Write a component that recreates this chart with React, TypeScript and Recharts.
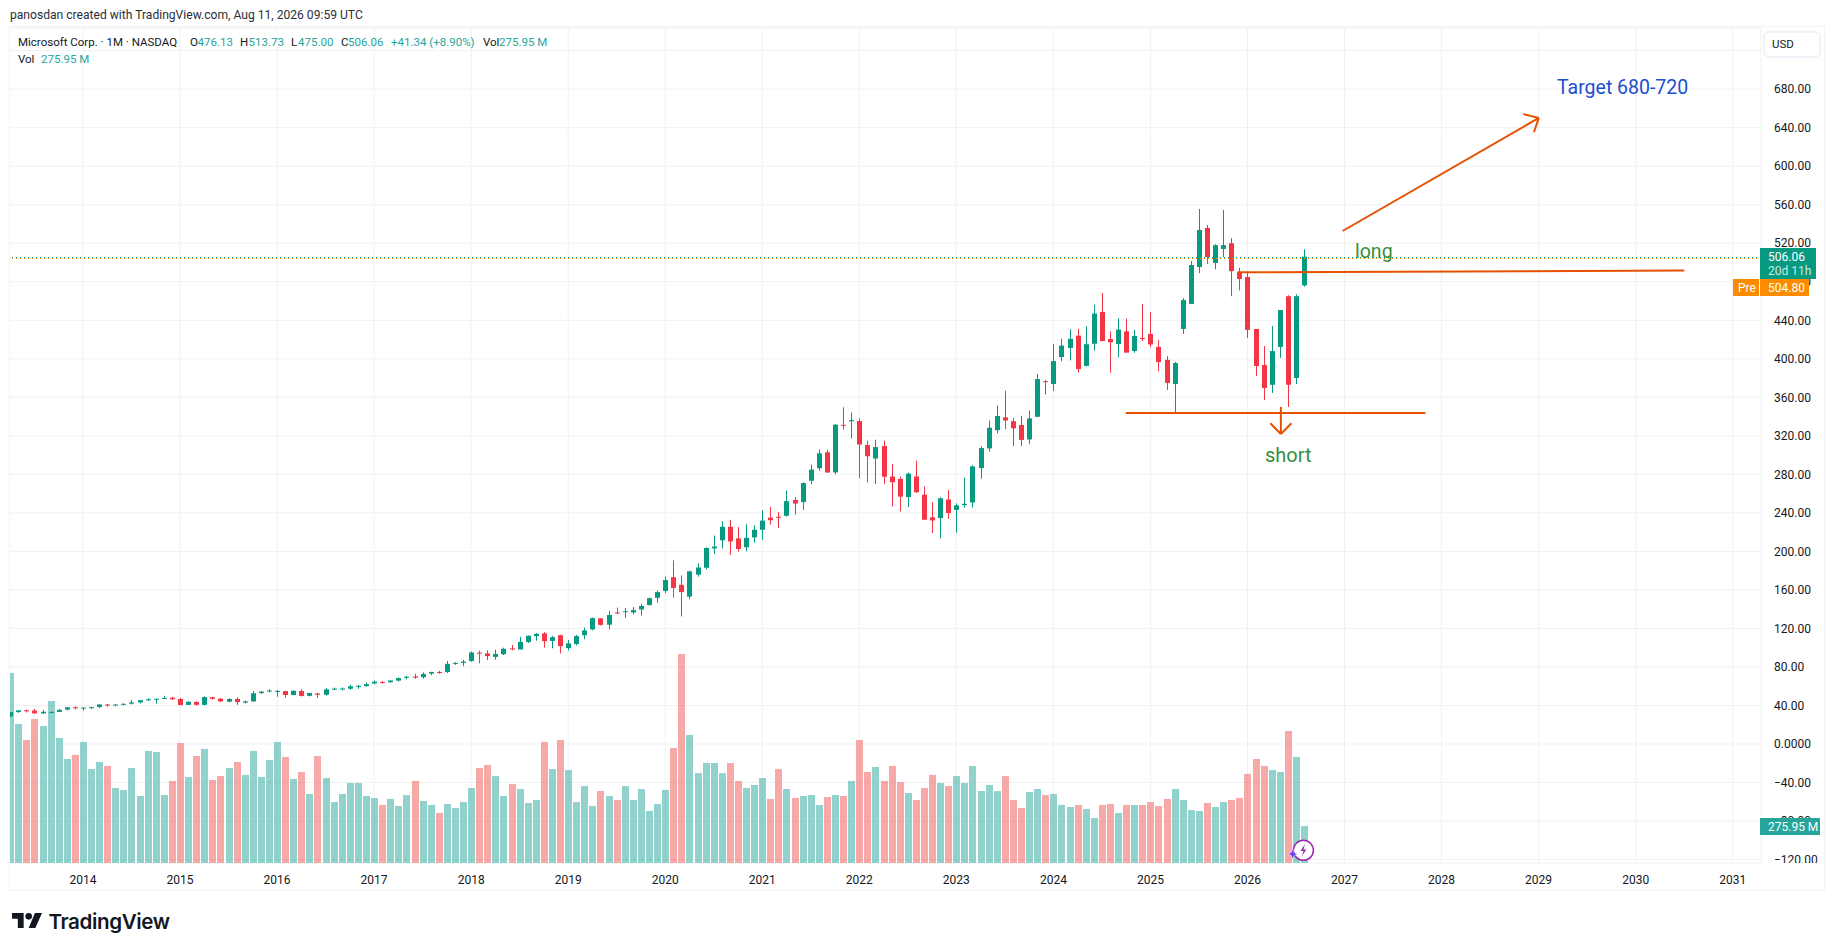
import React from 'react';
import { ComposedChart, Bar, XAxis, YAxis, CartesianGrid, ReferenceLine } from 'recharts';

const GREEN = '#089981';
const RED = '#f23645';
const VOL_GREEN = '#26a69a';
const VOL_RED = '#ef5350';
const ORANGE = '#e65100';
const FONT = 'Roboto, sans-serif';

// months from Apr 2013 out to the empty right side of the chart
const months: string[] = [];
for (let i = 0; i < 217; i++) {
  const m = 3 + i;
  months.push(`${2013 + Math.floor(m / 12)}-${String((m % 12) + 1).padStart(2, '0')}`);
}
const yearTicks = [2014, 2015, 2016, 2017, 2018, 2019, 2020, 2021, 2022, 2023, 2024, 2025, 2026, 2027, 2028, 2029, 2030, 2031].map((y) => `${y}-01`);
const priceTicks = [-120, -80, -40, 0, 40, 80, 120, 160, 200, 240, 280, 320, 360, 400, 440, 480, 520, 560, 600, 640, 680, 720];

const opens = [
  28.64, 33.21, 35.0, 34.75, 31.8, 33.2, 33.3, 35.7, 38.1,
  37.35, 37.74, 38.34, 41.0, 40.3, 40.9, 41.86, 43.2, 45.4, 46.3, 46.9, 48.0,
  46.7, 40.6, 43.7, 40.6, 48.6, 47.0, 43.96, 46.7, 43.0, 44.27, 52.85, 54.4,
  54.3, 54.9, 50.9, 55.05, 50.0, 52.44, 51.13, 56.6, 57.0, 57.4, 59.97, 60.1,
  62.8, 64.4, 64.1, 65.8, 68.7, 70.2, 69.3, 73.1, 74.7, 74.7, 83.7, 84.2,
  86.1, 94.8, 93.99, 90.47, 93.2, 99.28, 98.1, 106.0, 112.0, 114.75, 107.0, 113.0,
  99.55, 103.8, 112.9, 118.95, 130.5, 123.85, 136.6, 137.0, 136.6, 139.66, 144.26, 151.8,
  158.8, 173.2, 165.3, 153.0, 175.8, 183.0, 203.14, 211.5, 225.5, 213.5, 204.3, 214.5,
  222.5, 235.0, 235.9, 237.0, 253.4, 251.2, 273.3, 286.4, 302.9, 282.0, 331.4, 335.1,
  335.35, 310.4, 296.4, 309.37, 277.7, 275.2, 256.4, 277.8, 258.87, 235.4, 234.6, 253.87,
  243.08, 248.0, 250.76, 286.5, 306.97, 325.9, 339.19, 335.19, 331.31, 316.28, 339.79, 376.76,
  373.86, 401.83, 411.27, 424.0, 392.61, 415.6, 448.66, 420.5, 415.25, 428.45, 408.1, 421.57,
  425.8, 412.3, 398.9, 373.8, 431.0, 457.0, 495.3, 535.8, 499.5, 514.0, 520.0, 490.0,
  484.9, 431.0, 393.5, 373.0, 412.3, 465.0, 380.0, 476.13,
];
const highs = [
  33.11, 35.0, 35.8, 36.4, 35.2, 33.9, 36.4, 38.5, 38.98,
  37.9, 38.46, 41.66, 41.6, 41.1, 42.29, 45.7, 45.5, 47.57, 47.0, 50.05, 49.06,
  47.9, 44.3, 44.2, 49.5, 48.9, 47.8, 47.6, 48.4, 45.0, 54.98, 55.1, 56.85,
  56.0, 55.1, 55.64, 56.77, 53.0, 52.95, 58.3, 58.5, 58.7, 61.4, 61.4, 64.1,
  65.9, 65.2, 66.2, 69.1, 70.74, 72.9, 74.4, 74.96, 75.97, 86.2, 85.06, 87.5,
  96.07, 96.8, 97.24, 97.9, 99.99, 102.7, 111.15, 112.8, 115.3, 116.18, 112.2, 113.42,
  107.9, 113.24, 120.82, 131.37, 130.65, 138.4, 141.7, 140.94, 142.37, 145.67, 152.0, 159.55,
  174.05, 190.7, 175.0, 180.0, 187.5, 204.4, 216.38, 231.15, 232.86, 225.2, 228.12, 227.18,
  242.64, 246.1, 241.0, 263.2, 256.5, 271.65, 290.15, 305.84, 305.3, 332.0, 349.67, 344.3,
  338.0, 315.0, 315.95, 315.0, 290.88, 277.69, 282.0, 294.18, 267.45, 251.0, 256.17, 263.92,
  249.83, 276.76, 289.27, 308.93, 335.94, 351.47, 366.78, 338.54, 340.86, 346.2, 384.3, 378.16,
  415.32, 420.82, 430.82, 430.82, 433.6, 456.17, 468.35, 428.5, 441.85, 441.85, 429.9, 456.9,
  448.5, 419.5, 402.9, 396.7, 463.0, 501.6, 555.6, 539.0, 519.0, 554.5, 525.4, 494.5,
  489.5, 431.0, 413.3, 434.0, 450.6, 466.0, 467.0, 513.73,
];
const lows = [
  28.11, 32.3, 32.6, 31.0, 31.1, 31.7, 33.0, 34.9, 35.8,
  34.63, 36.0, 37.2, 38.5, 39.0, 40.1, 41.0, 42.1, 44.9, 41.7, 46.8, 45.5,
  40.2, 40.6, 40.0, 40.1, 46.0, 43.9, 43.3, 40.6, 42.0, 43.75, 52.0, 53.7,
  49.1, 48.2, 50.6, 49.35, 49.45, 48.0, 50.4, 56.1, 55.6, 56.3, 57.3, 59.2,
  61.9, 62.75, 63.6, 64.85, 67.14, 67.6, 67.9, 71.3, 72.9, 73.6, 82.2, 80.7,
  85.5, 83.8, 87.08, 87.5, 92.45, 97.26, 98.6, 104.8, 107.23, 100.11, 99.35, 93.96,
  97.2, 102.35, 108.8, 118.1, 123.0, 119.0, 134.67, 130.8, 134.5, 133.22, 143.8, 146.65,
  156.5, 152.0, 132.52, 150.36, 173.8, 181.35, 197.5, 203.1, 196.25, 199.6, 200.1, 209.1,
  211.9, 227.9, 224.3, 236.0, 238.07, 243.0, 269.6, 283.74, 281.6, 280.0, 326.37, 317.25,
  276.05, 271.52, 270.0, 270.0, 246.44, 241.51, 245.94, 260.66, 232.73, 219.13, 213.43, 233.87,
  219.35, 245.47, 245.61, 275.37, 303.4, 322.5, 327.0, 309.45, 309.45, 311.21, 339.65, 362.9,
  366.5, 397.5, 398.39, 385.58, 392.0, 408.5, 420.0, 385.58, 401.62, 408.0, 406.4, 418.47,
  412.0, 387.0, 367.6, 344.0, 425.8, 457.0, 489.0, 498.5, 493.0, 505.7, 465.0, 471.0,
  421.6, 382.0, 357.0, 364.5, 401.0, 350.0, 373.8, 475.0,
];
const closes = [
  33.1, 34.9, 34.5, 31.84, 33.4, 33.28, 35.4, 38.1, 37.4,
  37.84, 38.31, 40.99, 40.4, 40.94, 41.7, 43.16, 45.43, 46.36, 46.95, 47.81, 46.45,
  40.4, 43.85, 40.65, 48.64, 46.86, 44.15, 46.7, 43.52, 44.26, 52.64, 54.35, 55.48,
  55.09, 50.88, 55.23, 49.87, 53.0, 51.17, 56.68, 57.46, 57.6, 59.92, 60.26, 62.14,
  64.65, 63.98, 65.86, 68.46, 69.84, 68.93, 72.7, 74.77, 74.49, 83.18, 84.17, 85.54,
  95.01, 93.77, 91.27, 93.52, 98.84, 98.61, 106.08, 112.33, 114.37, 106.81, 110.89, 101.57,
  104.43, 112.03, 117.94, 130.6, 123.68, 133.96, 136.27, 137.86, 139.03, 143.37, 151.38, 157.7,
  170.23, 162.01, 157.71, 179.21, 183.25, 203.51, 205.01, 225.53, 210.33, 202.47, 214.07, 222.42,
  231.96, 232.38, 235.77, 252.18, 249.68, 270.9, 284.91, 301.88, 281.92, 331.62, 330.59, 336.32,
  310.98, 298.79, 308.31, 277.52, 271.87, 256.83, 280.74, 261.47, 232.9, 232.13, 255.14, 239.82,
  247.81, 249.42, 288.3, 307.26, 328.39, 340.54, 335.92, 327.76, 315.75, 338.11, 378.91, 376.04,
  397.58, 413.64, 420.72, 389.33, 415.13, 446.95, 418.35, 417.14, 430.3, 406.35, 423.7, 421.5,
  414.9, 396.6, 375.0, 395.6, 461.0, 497.4, 533.8, 505.7, 518.0, 518.0, 491.0, 482.9,
  430.0, 392.5, 369.7, 408.0, 450.6, 373.0, 465.0, 506.06,
];
// monthly volume in millions
const volumes = [
  1418, 1037, 918, 1074, 1022, 1209, 933, 776, 806,
  903, 701, 754, 724, 560, 545, 709, 500, 836, 828, 507, 612,
  895, 642, 798, 851, 619, 649, 709, 754, 657, 836, 642, 768,
  903, 791, 627, 679, 515, 798, 634, 455, 515, 597, 597, 500,
  485, 433, 478, 425, 507, 612, 463, 433, 373, 440, 410, 455,
  560, 709, 731, 649, 500, 589, 552, 448, 470, 903, 701, 918,
  694, 455, 574, 425, 537, 500, 470, 574, 470, 552, 388, 440,
  545, 858, 1559, 955, 671, 746, 746, 671, 746, 612, 560, 582,
  634, 478, 701, 552, 485, 500, 507, 433, 492, 507, 500, 612,
  918, 679, 716, 612, 724, 604, 522, 470, 560, 657, 597, 574,
  649, 597, 724, 537, 582, 537, 649, 470, 410, 530, 552, 507,
  515, 433, 418, 433, 403, 336, 433, 440, 373, 433, 433, 433,
  455, 425, 478, 552, 470, 395, 388, 448, 418, 455, 470, 485,
  664, 776, 724, 694, 679, 985, 791, 276,
];

// hand drawn lines as [month index, price, month index, price]
const drawnLines = [
  [137.8, 343.7, 174.7, 343.7],
  [151.6, 489.8, 206.55, 491.6],
  [164.5, 532.7, 188.65, 650.1],
  [186.75, 654.1, 188.65, 650.1],
  [188.05, 635.2, 188.65, 650.1],
  [156.9, 349.95, 156.9, 321.9],
  [155.6, 333, 156.9, 321.9],
  [158.2, 333, 156.9, 321.9],
];
const lastClose = 506.06;
const prePrice = 504.8;

const chartData = months.map((month, i) => ({
  month,
  open: opens[i],
  high: highs[i],
  low: lows[i],
  close: closes[i],
  volume: volumes[i],
}));

const formatPrice = (v: number) => {
  if (v === 0) return '0.0000';
  return v < 0 ? `\u2212${Math.abs(v).toFixed(2)}` : v.toFixed(2);
};

const CandleShape = (props: any) => {
  const { x, y, width, height, payload } = props;
  if (payload.open == null) return null;
  const { open, high, low, close } = payload;
  const color = close >= open ? GREEN : RED;
  const pxPerUnit = height / (high - low);
  const bodyTop = y + (high - Math.max(open, close)) * pxPerUnit;
  const bodyH = Math.max(Math.abs(open - close) * pxPerUnit, 1);
  const cx = Math.floor(x + width / 2);
  return (
    <g>
      <rect x={cx} y={y} width={1} height={height} fill={color} />
      <rect x={cx - 2} y={bodyTop} width={5} height={bodyH} fill={color} />
    </g>
  );
};

const VolumeShape = (props: any) => {
  const { x, y, width, height, payload } = props;
  if (payload.volume == null) return null;
  const color = payload.close >= payload.open ? VOL_GREEN : VOL_RED;
  return <rect x={Math.round(x)} y={y} width={width} height={height} fill={color} fillOpacity={0.5} />;
};

// keeps the two dotted price lines on whole pixels so they stay apart
const DottedLine = (color: string) => (props: any) => {
  const y = Math.round(props.y1) + 0.5;
  return <line x1={props.x1} x2={props.x2} y1={y} y2={y} stroke={color} strokeDasharray="1 3" />;
};

const abs = (left: number, top: number, extra: React.CSSProperties = {}): React.CSSProperties => ({
  position: 'absolute',
  left,
  top,
  whiteSpace: 'nowrap',
  lineHeight: '14px',
  ...extra,
});

const LegendBit = ({ x, y, text, color }: { x: number; y: number; text: string; color: string }) => (
  <span style={abs(x, y, { color, fontSize: 11.5 })}>{text}</span>
);

export default function App() {
  return (
    <div style={{ position: 'absolute', left: 0, top: 0, width: 1835, height: 951, background: '#fff', overflow: 'hidden', fontFamily: FONT }}>
      <span style={abs(10, 8, { fontSize: 12.1, color: '#2a2e39' })}>panosdan created with TradingView.com, Aug 11, 2026 09:59 UTC</span>

      <div style={{ position: 'absolute', left: 0, top: 0 }}>
        <ComposedChart width={1835} height={890} data={chartData} margin={{ top: 28, right: 10, bottom: 0, left: 6.16 }}>
          <XAxis
            xAxisId="price"
            dataKey="month"
            ticks={yearTicks}
            interval={0}
            height={27}
            axisLine={false}
            tickLine={false}
            tickMargin={6}
            tickFormatter={(m: string) => m.slice(0, 4)}
            tick={{ fontSize: 12, fill: '#131722', fontFamily: FONT }}
          />
          <XAxis xAxisId="vol" dataKey="month" height={0} hide />
          <XAxis xAxisId="draw" type="number" domain={[-0.5, 216.5]} allowDataOverflow height={0} hide />
          <YAxis
            yAxisId="price"
            orientation="right"
            width={64}
            domain={[-123.6, 743.5]}
            allowDataOverflow
            ticks={priceTicks}
            interval={0}
            axisLine={false}
            tickLine={false}
            tickMargin={7}
            tickFormatter={formatPrice}
            tick={{ fontSize: 12, fill: '#131722', fontFamily: FONT }}
          />
          <YAxis yAxisId="vol" domain={[0, 6229]} allowDataOverflow width={0} hide />
          <CartesianGrid xAxisId="price" yAxisId="price" stroke="#f0f1f5" strokeWidth={1} />
          <Bar xAxisId="vol" yAxisId="vol" dataKey="volume" barSize={7} shape={VolumeShape} isAnimationActive={false} />
          <Bar
            xAxisId="price"
            yAxisId="price"
            dataKey={(d: any) => (d.low == null ? null : [d.low, d.high])}
            barSize={5}
            shape={CandleShape}
            isAnimationActive={false}
          />
          <ReferenceLine xAxisId="price" yAxisId="price" y={lastClose} shape={DottedLine(GREEN)} />
          <ReferenceLine xAxisId="price" yAxisId="price" y={prePrice} shape={DottedLine('#ff9800')} />
          {drawnLines.map((s, i) => (
            <ReferenceLine
              key={i}
              xAxisId="draw"
              yAxisId="price"
              stroke={ORANGE}
              strokeWidth={2}
              segment={[{ x: s[0], y: s[1] }, { x: s[2], y: s[3] }]}
            />
          ))}
        </ComposedChart>
      </div>

      {/* trim the first bar and the clipped axis label, then the frame */}
      <div style={{ position: 'absolute', left: 0, top: 24, width: 9, height: 870, background: '#fff' }} />
      <div style={{ position: 'absolute', left: 1762, top: 863, width: 60, height: 5, background: '#fff' }} />
      <div style={{ position: 'absolute', left: 9, top: 26, width: 1814, height: 863, border: '1.5px solid #f3f3f3', pointerEvents: 'none' }} />

      <LegendBit x={18} y={35} text="Microsoft Corp. · 1M · NASDAQ" color="#131722" />
      <LegendBit x={190} y={35} text="O" color="#131722" />
      <LegendBit x={197.5} y={35} text="476.13" color={VOL_GREEN} />
      <LegendBit x={240} y={35} text="H" color="#131722" />
      <LegendBit x={248.5} y={35} text="513.73" color={VOL_GREEN} />
      <LegendBit x={291} y={35} text="L" color="#131722" />
      <LegendBit x={298} y={35} text="475.00" color={VOL_GREEN} />
      <LegendBit x={341} y={35} text="C" color="#131722" />
      <LegendBit x={348} y={35} text="506.06" color={VOL_GREEN} />
      <LegendBit x={391} y={35} text="+41.34 (+8.90%)" color={VOL_GREEN} />
      <LegendBit x={483} y={35} text="Vol" color="#131722" />
      <LegendBit x={499} y={35} text="275.95 M" color={VOL_GREEN} />
      <LegendBit x={18} y={52} text="Vol" color="#131722" />
      <LegendBit x={41} y={52} text="275.95 M" color={VOL_GREEN} />

      <div style={{ position: 'absolute', left: 1763, top: 31, width: 54, height: 23, border: '2px solid #f0f3fa', borderRadius: 6, background: '#fff' }}>
        <span style={abs(7, 4, { fontSize: 11.5, color: '#131722' })}>USD</span>
      </div>

      <div style={{ position: 'absolute', left: 1760, top: 248, width: 56, height: 31, background: GREEN }}>
        <span style={abs(8, 2, { fontSize: 12, color: '#fff' })}>506.06</span>
        <span style={abs(8, 16, { fontSize: 12, color: '#c8e9e2' })}>20d 11h</span>
      </div>
      <div style={{ position: 'absolute', left: 1733, top: 279, width: 26, height: 17, background: '#fb8c00' }}>
        <span style={abs(5, 2, { fontSize: 12, color: '#fff' })}>Pre</span>
      </div>
      <div style={{ position: 'absolute', left: 1760, top: 279, width: 49, height: 17, background: '#fb8c00' }}>
        <span style={abs(8, 2, { fontSize: 12, color: '#fff' })}>504.80</span>
      </div>
      <div style={{ position: 'absolute', left: 1760, top: 818, width: 60, height: 17, background: VOL_GREEN }}>
        <span style={abs(8, 2, { fontSize: 12, color: '#fff' })}>275.95 M</span>
      </div>

      <span style={abs(1355, 243, { fontSize: 19.5, lineHeight: '18px', color: '#388e3c' })}>long</span>
      <span style={abs(1265, 446, { fontSize: 20, lineHeight: '18px', color: '#388e3c' })}>short</span>
      <span style={abs(1557, 79, { fontSize: 19.5, lineHeight: '18px', color: '#1c4fd0' })}>Target 680-720</span>

      <svg style={{ position: 'absolute', left: 1285, top: 835 }} width={32} height={30}>
        <circle cx={18.4} cy={15.3} r={10} fill="#fff" stroke="#9c27b0" strokeWidth={1.5} />
        <path d="M20 9 L15.5 16 L18.5 16 L16.5 21.5 L21.5 14.5 L18.5 14.5 Z" fill="#9c27b0" />
        <path d="M7.7 14 L9.2 17.5 L12.7 19 L9.2 20.5 L7.7 24 L6.2 20.5 L2.7 19 L6.2 17.5 Z" fill="#6c3cf0" stroke="#fff" strokeWidth={0.5} />
      </svg>

      <svg style={{ position: 'absolute', left: 12, top: 913 }} width={30} height={15} viewBox="0 0 36 18">
        <path d="M14 18H7V7H0V0h14v18zM28 18h-8L27.5 0H36L28 18z" fill="#131722" />
        <circle cx={20} cy={4} r={4} fill="#131722" />
      </svg>
      <span style={abs(48.5, 910, { fontSize: 20.6, lineHeight: '24px', fontWeight: 600, fontFamily: 'Inter, sans-serif', color: '#131722', letterSpacing: -0.4 })}>TradingView</span>
    </div>
  );
}
